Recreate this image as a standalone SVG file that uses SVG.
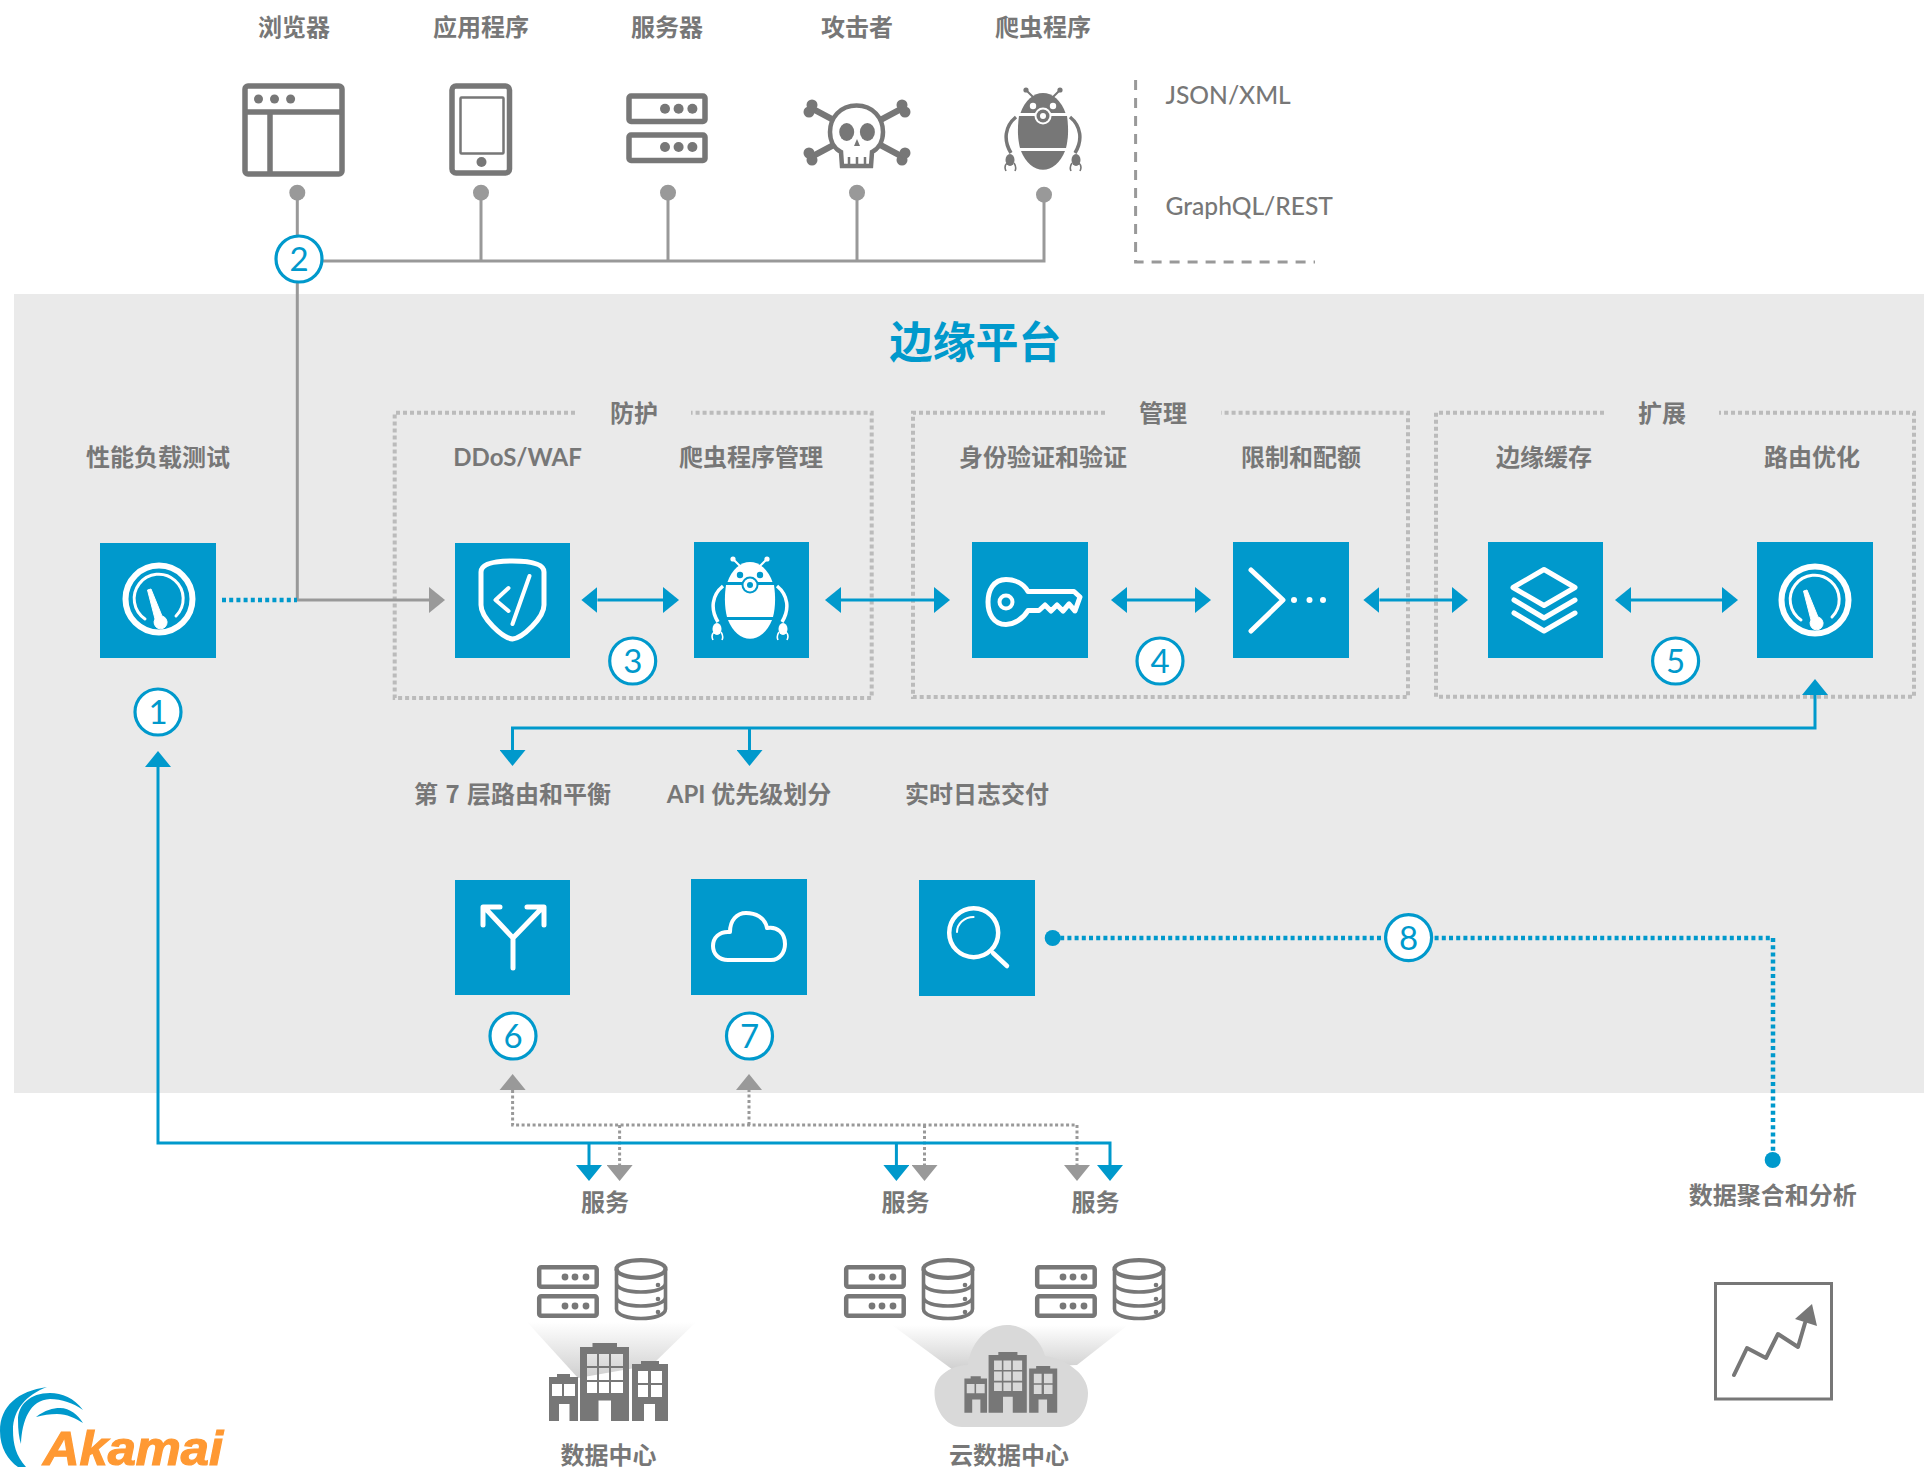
<svg xmlns="http://www.w3.org/2000/svg" xmlns:xlink="http://www.w3.org/1999/xlink" width="1924" height="1467" viewBox="0 0 1924 1467">
<style>
text{font-family:"Noto Sans CJK SC","Noto Sans",sans-serif;font-size:24px;font-weight:700;fill:#777;text-anchor:middle}
.lat{font-family:Lato,"Noto Sans CJK SC",sans-serif;font-weight:700}
.leg{font-family:Lato,sans-serif;font-size:24.6px;font-weight:500;text-anchor:start}
.num{font-family:Lato,sans-serif;font-size:33px;font-weight:400;fill:#0099cc}
.badge{fill:#fff;stroke:#0099cc;stroke-width:3.2}
.tile{fill:#0099cc}
.ico{fill:none;stroke:#fff;stroke-width:5;stroke-linecap:round;stroke-linejoin:round}
.gi{fill:none;stroke:#777;stroke-width:5.5;stroke-linejoin:round}
.gf{fill:#777}
.grey{fill:none;stroke:#999;stroke-width:3}
.blue{fill:none;stroke:#0099cc;stroke-width:3}
.dotb{fill:none;stroke:#0099cc;stroke-width:4.5;stroke-dasharray:4 3.2}
.dotg{fill:none;stroke:#999;stroke-width:3;stroke-dasharray:3 2.5}
.grp{fill:none;stroke:#bbb;stroke-width:4;stroke-dasharray:4 3}
.ba{marker-end:url(#bh)}
.bb{marker-start:url(#bh);marker-end:url(#bh)}
.ga{marker-end:url(#gh)}
</style>
<defs>
<marker id="bh" markerUnits="userSpaceOnUse" markerWidth="16" markerHeight="26" refX="0" refY="13" orient="auto-start-reverse"><path d="M0,0L16,13L0,26Z" fill="#0099cc"/></marker>
<marker id="gh" markerUnits="userSpaceOnUse" markerWidth="16" markerHeight="26" refX="0" refY="13" orient="auto-start-reverse"><path d="M0,0L16,13L0,26Z" fill="#999"/></marker>
<linearGradient id="beam" x1="0" y1="0" x2="0" y2="1"><stop offset="0" stop-color="#fff"/><stop offset="1" stop-color="#cfcfcf"/></linearGradient>
<g id="gauge">
<circle r="33.5" fill="none" stroke="#fff" stroke-width="6"/>
<path d="M-14,20A24.5,24.5 0 1 1 17,17" fill="none" stroke="#fff" stroke-width="3" stroke-linecap="round"/>
<path d="M-11.5,-9L-8,-10L3,17A6.5,6.5 0 1 1 -4,20Z" fill="#fff" stroke="#fff" stroke-width="1" stroke-linejoin="round"/>
</g>
<g id="bot">
<path d="M-22.5,-17A25.5,38 0 0 1 22.5,-17Z" fill="currentColor"/>
<path d="M-24,-14L24,-14C26,0 25,10 23,18L-23,18C-25,10 -26,0 -24,-14Z" fill="currentColor"/>
<path d="M-22,21L22,21A25.5,38 0 0 1 -22,21Z" fill="currentColor"/>
<circle cx="-10" cy="-24" r="3.2" fill="var(--bg)"/><circle cx="10" cy="-24" r="3.2" fill="var(--bg)"/>
<circle cy="-14" r="8.5" fill="var(--bg)"/><circle cy="-14" r="6.5" fill="currentColor"/><circle cy="-14" r="3" fill="var(--bg)"/>
<path d="M-10,-33L-16,-39M10,-33L16,-39" stroke="currentColor" stroke-width="2"/>
<circle cx="-17" cy="-40" r="2.6" fill="currentColor"/><circle cx="17" cy="-40" r="2.6" fill="currentColor"/>
<path d="M-27,-13C-38,-4 -40,10 -32,23M27,-13C38,-4 40,10 32,23" fill="none" stroke="currentColor" stroke-width="3.5"/>
<ellipse cx="-33" cy="30" rx="4.5" ry="6" fill="currentColor"/><ellipse cx="33" cy="30" rx="4.5" ry="6" fill="currentColor"/>
<path d="M-36,33C-39,36 -38,39 -37,41M-29,33C-27,36 -27,39 -28,41M36,33C39,36 38,39 37,41M29,33C27,36 27,39 28,41" fill="none" stroke="currentColor" stroke-width="1.6"/>
</g>
<g id="srvS">
<rect x="2.2" y="2.2" width="57.5" height="19.5" rx="2" class="gi" style="stroke-width:4.5"/>
<rect x="2.2" y="31.2" width="57.5" height="19.5" rx="2" class="gi" style="stroke-width:4.5"/>
<g class="gf"><circle cx="28" cy="12" r="3.4"/><circle cx="38" cy="12" r="3.4"/><circle cx="49" cy="12" r="3.4"/><circle cx="28" cy="41" r="3.4"/><circle cx="38" cy="41" r="3.4"/><circle cx="49" cy="41" r="3.4"/></g>
</g>
<g id="db">
<ellipse cx="27" cy="11" rx="24.5" ry="8.8" class="gi" style="stroke-width:4.2"/>
<path d="M2.5,11V51C2.5,57 14,60.5 27,60.5C40,60.5 51.5,57 51.5,51V11M2.5,25C2.5,31 14,34 27,34C40,34 51.5,31 51.5,25M2.5,39C2.5,45 14,48 27,48C40,48 51.5,45 51.5,39" class="gi" style="stroke-width:3.6"/>
<g class="gf"><circle cx="44" cy="27" r="2.3"/><circle cx="44" cy="41" r="2.3"/><circle cx="44" cy="54" r="2.3"/></g>
</g>
<g id="city">
<path class="gf" fill-rule="evenodd" d="M31,4H43.5V0H68V4H80V78H31ZM38,11V23H48V11ZM50,11V23H60V11ZM62,11V23H74V11ZM38,25V37H48V25ZM50,25V37H60V25ZM62,25V37H74V25ZM38,39V50H48V39ZM50,39V50H60V39ZM62,39V50H74V39ZM49.5,78H62V57.5H49.5Z"/>
<path class="gf" fill-rule="evenodd" d="M0,34H8V31H21V34H29V78H0ZM3,41V53H13V41ZM15,41V53H26V41ZM10,78H20.5V61H10Z"/>
<path class="gf" fill-rule="evenodd" d="M83,21H92V18H110V21H119V78H83ZM89,28V40H99V28ZM102,28V40H113V28ZM89,42V54H99V42ZM102,42V54H113V42ZM95,78H106V61H95Z"/>
</g>
</defs>

<rect id="platform-panel" x="14" y="294" width="1910" height="799" fill="#eaeaea"/>

<g id="groups">
<path class="grp" d="M575,412.7H394.7V698H871.7V412.7H691"/>
<path class="grp" d="M1105,412.7H913V697H1408V412.7H1221"/>
<path class="grp" d="M1604,412.7H1436V696.7H1914V412.7H1719"/>
</g>

<g id="connectors">
<path class="grey" d="M297.3,192V600H429" style="marker-end:url(#gh)"/>
<path class="grey" d="M299,261H1044V195M481,261V193M668,261V193M857,261V193"/>
<path class="dotb" d="M222,600H297"/>
<path class="blue bb" d="M597.4,600H663"/>
<path class="blue bb" d="M841,600H934"/>
<path class="blue bb" d="M1127,600H1195"/>
<path class="blue bb" d="M1379.4,600H1452"/>
<path class="blue bb" d="M1631,600H1722"/>
<path class="blue bb" d="M512.5,750V728H1815V695"/>
<path class="blue ba" d="M749.5,728V750"/>
<path class="dotb" d="M1053,938H1773V1160"/>
<path class="dotg ga" d="M512.6,1090V1125H1077V1165"/>
<path class="dotg ga" d="M749,1125V1090"/>
<path class="dotg ga" d="M619.6,1125V1165"/>
<path class="dotg ga" d="M924.5,1125V1165"/>
<path class="blue bb" d="M1110,1165V1143H158V767"/>
<path class="blue ba" d="M589,1143V1165"/>
<path class="blue ba" d="M896.4,1143V1165"/>
<path class="grey" d="M1135.6,80V262H1315" style="stroke-dasharray:10 8"/>
<g fill="#999"><circle cx="297.3" cy="192.7" r="8"/><circle cx="481" cy="192.7" r="8"/><circle cx="668" cy="192.7" r="8"/><circle cx="857" cy="192.7" r="8"/><circle cx="1044" cy="194.7" r="8"/></g>
<g fill="#0099cc"><circle cx="1052.7" cy="938" r="8"/><circle cx="1772.7" cy="1160" r="8"/></g>
<polygon points="499.6,1090 512.6,1074 525.6,1090" fill="#999"/>
</g>

<g id="n-browser"><text x="294" y="36">浏览器</text><rect x="245" y="86" width="97" height="88" rx="3" class="gi"/><path class="gi" d="M245,112H342M270,112V174"/><g class="gf"><circle cx="258.5" cy="99" r="4.5"/><circle cx="274.5" cy="99" r="4.5"/><circle cx="290.6" cy="99" r="4.5"/></g></g>
<g id="n-app"><text x="481" y="36">应用程序</text><rect x="452" y="86" width="57.5" height="87" rx="4" class="gi"/><rect x="460.5" y="97.5" width="43" height="56" rx="1" fill="none" stroke="#777" stroke-width="2.5"/><circle cx="481.5" cy="162" r="5" class="gf"/></g>
<g id="n-server"><text x="667" y="36">服务器</text><rect x="629" y="96" width="76" height="25.5" rx="2" class="gi"/><rect x="629" y="135" width="76" height="25.5" rx="2" class="gi"/><g class="gf"><circle cx="665" cy="108.7" r="5"/><circle cx="678.6" cy="108.7" r="5"/><circle cx="692.4" cy="108.7" r="5"/><circle cx="665" cy="147" r="5"/><circle cx="678.6" cy="147" r="5"/><circle cx="692.4" cy="147" r="5"/></g></g>
<g id="n-attacker"><text x="857" y="36">攻击者</text>
<path d="M813,109L901,156M901,109L813,156" stroke="#777" stroke-width="6.5" fill="none"/>
<g class="gf"><circle cx="812" cy="105" r="5.5"/><circle cx="809" cy="112" r="5.5"/><circle cx="902" cy="105" r="5.5"/><circle cx="905" cy="112" r="5.5"/><circle cx="812" cy="160" r="5.5"/><circle cx="809" cy="153" r="5.5"/><circle cx="902" cy="160" r="5.5"/><circle cx="905" cy="153" r="5.5"/></g>
<path d="M856.6,105.5C840,105.5 830,118 830,132C830,142 835,149 841,152L842,166H871L872,152C878,149 883,142 883,132C883,118 873,105.5 856.6,105.5Z" fill="#fff" stroke="#777" stroke-width="4.5"/>
<ellipse cx="846.7" cy="132" rx="7.5" ry="9" class="gf"/><ellipse cx="867.4" cy="132" rx="7.5" ry="9" class="gf"/><path d="M857,139L860,146H854Z" class="gf"/>
<path d="M849,157V168M857,157V168M865,157V168" stroke="#777" stroke-width="2.5"/></g>
<g id="n-bot"><text x="1043" y="36">爬虫程序</text><use xlink:href="#bot" href="#bot" x="1043" y="130" style="color:#777;--bg:#fff"/></g>

<g id="legend"><text class="leg" x="1165.5" y="104">JSON/XML</text><text class="leg" x="1165.5" y="215">GraphQL/REST</text></g>

<text id="title" x="975.5" y="358" style="font-size:43px;fill:#0099cc">边缘平台</text>
<g id="group-labels"><text x="634" y="422">防护</text><text x="1163" y="422">管理</text><text x="1662" y="422">扩展</text></g>

<g id="n-loadtest"><text x="158" y="465.5">性能负载测试</text><rect class="tile" x="100" y="543" width="116" height="115"/><use xlink:href="#gauge" href="#gauge" x="159" y="599"/></g>
<g id="n-waf"><text class="lat" x="517.6" y="465.5">DDoS/WAF</text><rect class="tile" x="455" y="543" width="115" height="115"/>
<path class="ico" d="M481,572C481,564 493,561 512.5,561C532,561 544,564 544,572V605C544,618 522.5,638 512.5,639C502.5,638 481,618 481,605Z"/>
<path class="ico" style="stroke-width:4" d="M508.5,588L495.5,600L508.5,611M529.5,576L512.5,624"/></g>
<g id="n-botmgmt"><text x="751" y="465.5">爬虫程序管理</text><rect class="tile" x="694" y="542" width="115" height="116"/><use xlink:href="#bot" href="#bot" x="750" y="599" style="color:#fff;--bg:#0099cc"/></g>
<g id="n-auth"><text x="1043" y="465.5">身份验证和验证</text><rect class="tile" x="972" y="542" width="116" height="116"/>
<path class="ico" d="M1028,591.5H1074L1080,597L1075,611L1069,604L1063,611L1057,605L1051,611L1045,605L1039,610.5H1028C1023,619 1014,624.5 1006,624.5C993,624.5 988,613 988,602C988,591 993,579.5 1006,579.5C1014,579.5 1023,583 1028,591.5Z"/><circle cx="1006" cy="602" r="6.5" fill="none" stroke="#fff" stroke-width="4"/></g>
<g id="n-limit"><text x="1301" y="465.5">限制和配额</text><rect class="tile" x="1233" y="542" width="116" height="116"/><path class="ico" d="M1251,570L1283,600L1251,631"/><g fill="#fff"><circle cx="1294" cy="600" r="3"/><circle cx="1309.5" cy="600" r="3"/><circle cx="1323" cy="600" r="3"/></g></g>
<g id="n-cache"><text x="1544" y="465.5">边缘缓存</text><rect class="tile" x="1488" y="542" width="115" height="116"/><path class="ico" d="M1544,569.5L1575,587.5L1544,605.5L1513,587.5ZM1514,600L1544,618L1575,600M1514,613L1544,631L1575,613"/></g>
<g id="n-route"><text x="1812" y="465.5">路由优化</text><rect class="tile" x="1757" y="542" width="116" height="116"/><use xlink:href="#gauge" href="#gauge" x="1815" y="600"/></g>

<g id="n-l7"><text x="512.5" y="802.5" style="word-spacing:2px">第 7 层路由和平衡</text><rect class="tile" x="455" y="880" width="115" height="115"/><path class="ico" d="M513,968V938L485,908M513,938L542,908M483,925V907H500M544,925V907H527"/></g>
<g id="n-api"><text class="lat" x="749" y="802.5">API 优先级划分</text><rect class="tile" x="691" y="879" width="116" height="116"/><path class="ico" style="stroke-width:4" d="M728,960H771C780,960 785,952 785,944C785,933 777,926 767,928C765,917 755,913 746,913C737,913 730,920 730,932C719,931 713,938 713,946C713,954 719,960 728,960Z"/></g>
<g id="n-log"><text x="977" y="802.5">实时日志交付</text><rect class="tile" x="919" y="880" width="116" height="116"/><circle cx="973.7" cy="932.7" r="24.5" class="ico" style="stroke-width:4.5"/><path class="ico" style="stroke-width:4.5" d="M993,953L1007,966"/><path class="ico" style="stroke-width:2" d="M957,932C957,924 964,917 973.6,917"/></g>

<g id="badges">
<g id="b1"><circle class="badge" cx="158" cy="712" r="23"/><text class="num" x="158" y="724">1</text></g>
<g id="b2"><circle class="badge" cx="299" cy="259" r="23"/><text class="num" x="299" y="271">2</text></g>
<g id="b3"><circle class="badge" cx="632.7" cy="661" r="23"/><text class="num" x="632.7" y="673">3</text></g>
<g id="b4"><circle class="badge" cx="1160" cy="661" r="23"/><text class="num" x="1160" y="673">4</text></g>
<g id="b5"><circle class="badge" cx="1675.6" cy="661" r="23"/><text class="num" x="1675.6" y="673">5</text></g>
<g id="b6"><circle class="badge" cx="513" cy="1036" r="23"/><text class="num" x="513" y="1048">6</text></g>
<g id="b7"><circle class="badge" cx="749.5" cy="1036" r="23"/><text class="num" x="749.5" y="1048">7</text></g>
<g id="b8"><circle class="badge" cx="1408.6" cy="937.6" r="23"/><text class="num" x="1408.6" y="949.6">8</text></g>
</g>

<g id="n-services"><text x="605" y="1210.5">服务</text><text x="905.5" y="1210.5">服务</text><text x="1095.5" y="1210.5">服务</text></g>

<g id="n-datacenter">
<polygon points="527,1322 696,1322 652,1365 578,1378" fill="url(#beam)"/>
<use xlink:href="#srvS" href="#srvS" x="537" y="1265"/><use xlink:href="#db" href="#db" x="614" y="1258"/>
<use xlink:href="#city" href="#city" x="549" y="1343"/>
<text x="608.6" y="1463.5">数据中心</text>
</g>
<g id="n-cloud-dc">
<polygon points="892,1325 1128,1325 1077,1365 953,1370" fill="url(#beam)"/>
<use xlink:href="#srvS" href="#srvS" x="844" y="1265"/><use xlink:href="#db" href="#db" x="921" y="1258"/>
<use xlink:href="#srvS" href="#srvS" x="1035" y="1265"/><use xlink:href="#db" href="#db" x="1112" y="1258"/>
<path d="M962,1427C945,1427 934.5,1408 934.5,1393C934.5,1377 948,1366 968,1365C970,1345 985,1325 1007,1325C1029,1325 1043,1345 1045,1356C1062,1358 1088,1372 1088,1393C1088,1412 1075,1427 1060,1427Z" fill="#d9d9d9"/>
<use xlink:href="#city" href="#city" transform="translate(964.4,1352) scale(.78)"/>
<text x="1009" y="1463.5">云数据中心</text>
</g>
<g id="n-analytics"><text x="1772.7" y="1203.5">数据聚合和分析</text><rect x="1715.5" y="1283.5" width="116" height="115.5" fill="#fff" stroke="#777" stroke-width="3"/><path d="M1734,1375L1747,1348L1766,1358L1778,1334L1798,1347L1805,1323" fill="none" stroke="#777" stroke-width="4" stroke-linecap="round" stroke-linejoin="round"/><polygon points="1812,1304 1817,1326 1795,1319" fill="#777"/></g>

<g id="akamai-logo">
<path d="M47,1387C18,1391 0,1406 0,1431C0,1448 8,1460 18,1467H26C16,1456 13,1444 13,1430C13,1410 26,1395 47,1387Z" fill="#0099cc"/>
<path d="M83,1410C74,1398 62,1393 50,1393C30,1393 18,1405 18,1420C18,1430 19,1438 21,1444C22,1420 30,1400 50,1399C62,1399 73,1403 83,1410Z" fill="#0099cc"/>
<path d="M36,1417C45,1410 53,1408 60,1408C70,1408 78,1415 83,1423C75,1418 67,1414 57,1414C50,1414 43,1415 36,1417Z" fill="#0099cc"/>
<text x="43" y="1465" textLength="180" lengthAdjust="spacingAndGlyphs" style="font-family:'Liberation Sans',sans-serif;font-style:italic;font-weight:700;font-size:49px;fill:#f93;stroke:#f93;stroke-width:1.2;text-anchor:start">Akamai</text>
</g>
</svg>
